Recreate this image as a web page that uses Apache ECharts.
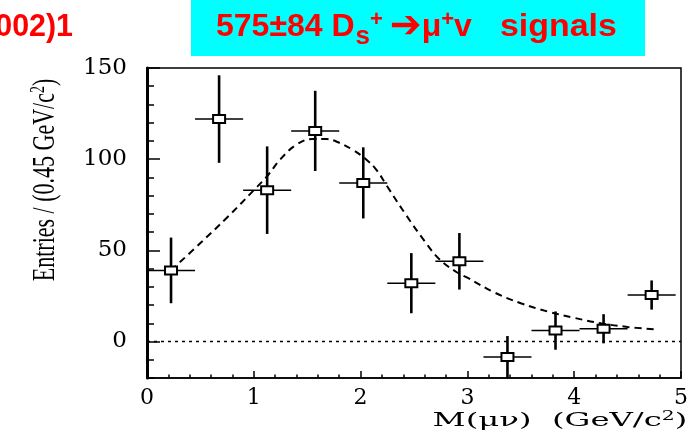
<!DOCTYPE html>
<html>
<head>
<meta charset="utf-8">
<script src="https://cdn.jsdelivr.net/npm/echarts@6/dist/echarts.min.js"></script>
<style>
  html, body { margin: 0; padding: 0; background: #fff; }
  #chart { width: 691px; height: 435px; }
</style>
</head>
<body>
<div id="chart"></div>
<script>
// Measured entries per 0.45 GeV/c^2 bin of M(mu nu)
const binCenters = [0.225, 0.675, 1.125, 1.575, 2.025, 2.475, 2.925, 3.375, 3.825, 4.275, 4.725];
const entries = [39, 122, 83, 115.5, 87, 32, 44, -8.5, 6, 7, 25.5];
const entryErrors = [18, 24, 24, 22, 19.5, 16.5, 15.5, 11.5, 10.5, 8, 8];
const binHalfWidth = 0.225;

// Fitted signal shape (dashed curve)
const fitMass = [0.225, 0.5, 0.75, 1.0, 1.13, 1.25, 1.4, 1.55, 1.68, 1.8, 1.93, 2.05, 2.15, 2.25, 2.43, 2.6, 2.74, 2.9, 3.0, 3.25, 3.5, 3.75, 4.0, 4.25, 4.5, 4.76];
const fitEntries = [39, 54, 68, 83, 91, 100, 108, 111, 111, 109, 105, 100, 94, 85, 69, 55, 45, 38, 35, 27, 21, 16.5, 13, 10, 8, 6.6];

// Axis labels
const xTickLabels = [0, 1, 2, 3, 4, 5];
const yTickLabels = [0, 50, 100, 150];

const serif = '"DejaVu Serif", "Liberation Serif", serif';
const titleFont = '"Liberation Sans", Arial, sans-serif';

const chart = echarts.init(document.getElementById('chart'), null, { renderer: 'canvas' });

const points = binCenters.map((x, i) => [x, entries[i], entryErrors[i]]);
const fitCurve = fitMass.map((x, i) => [x, fitEntries[i]]);

// Data point: hollow square with vertical (statistical) and horizontal (bin width) bars
function renderErrorBar(params, api) {
  const x = api.value(0), y = api.value(1), e = api.value(2);
  const c = api.coord([x, y]);
  const top = api.coord([x, y + e]);
  const bot = api.coord([x, y - e]);
  const left = api.coord([x - binHalfWidth, y]);
  const right = api.coord([x + binHalfWidth, y]);
  const w = 12, h = 8;
  return {
    type: 'group',
    children: [
      { type: 'line', shape: { x1: c[0], y1: top[1], x2: c[0], y2: bot[1] },
        style: { stroke: '#000', lineWidth: 2.6 } },
      { type: 'line', shape: { x1: left[0], y1: c[1], x2: right[0], y2: c[1] },
        style: { stroke: '#000', lineWidth: 1.5 } },
      { type: 'rect', shape: { x: c[0] - w / 2, y: c[1] - h / 2, width: w, height: h },
        style: { fill: '#fff', stroke: '#000', lineWidth: 2 } }
    ]
  };
}

const option = {
  backgroundColor: '#fff',
  animation: false,
  grid: {
    left: 147, top: 68, right: 10, bottom: 57,
    show: true, borderColor: '#000', borderWidth: 1.5, backgroundColor: 'transparent'
  },
  xAxis: {
    type: 'value', min: 0, max: 5, interval: 1,
    axisLine: { show: true, onZero: false, lineStyle: { color: '#000', width: 1.5 } },
    axisTick: { show: true, inside: true, length: 7, lineStyle: { color: '#000', width: 1.5 } },
    minorTick: { show: true, splitNumber: 5, length: 3.5, lineStyle: { color: '#000', width: 1.5 } },
    splitLine: { show: false },
    axisLabel: {
      color: '#000', fontFamily: serif, fontSize: 22, margin: 9,
      formatter: v => (xTickLabels.includes(v) ? String(v) : '')
    }
  },
  yAxis: [
    {
      type: 'value', min: -20, max: 150, interval: 10,
      axisLine: { show: true, onZero: false, lineStyle: { color: '#000', width: 3 } },
      axisTick: { show: true, inside: true, length: 7, lineStyle: { color: '#000', width: 1.5 } },
      splitLine: { show: false },
      axisLabel: {
        color: '#000', fontFamily: serif, fontSize: 23, margin: 20,
        formatter: v => (yTickLabels.includes(v) ? String(v) : '')
      }
    },
    {
      type: 'value', min: -20, max: 150, position: 'left',
      axisLine: { show: false },
      axisTick: { show: true, inside: true, length: 13, customValues: yTickLabels,
        lineStyle: { color: '#000', width: 1.5 } },
      axisLabel: { show: false },
      splitLine: { show: false }
    }
  ],
  graphic: [
    { type: 'rect', left: 191, top: 0, shape: { width: 454, height: 56 }, style: { fill: '#00FFFF' }, z: 10 },
    {
      type: 'text', x: 216, y: 27, z: 11,
      style: {
        text: '575±84 D{sub|s}{sup|+}{arrow|➔}μ{sup|+}v',
        fill: '#FF0000', font: 'bold 32px ' + titleFont, verticalAlign: 'middle', textAlign: 'left',
        rich: {
          sub: { fill: '#FF0000', fontWeight: 'bold', fontSize: 26, fontFamily: titleFont, padding: [20, 0, 0, 1] },
          sup: { fill: '#FF0000', fontWeight: 'bold', fontSize: 22, fontFamily: titleFont, padding: [0, 0, 14, 0] },
          arrow: { fill: '#FF0000', fontWeight: 'bold', fontSize: 38, fontFamily: '"DejaVu Sans", sans-serif', padding: [0, 0, 0, 7] }
        }
      }
    },
    {
      type: 'text', x: 500, y: 27, scaleX: 1.06, z: 11,
      style: { text: 'signals', fill: '#FF0000', font: 'bold 32px ' + titleFont, textAlign: 'left', verticalAlign: 'middle' }
    },
    {
      type: 'text', x: 73, y: 27, scaleX: 0.95, z: 11,
      style: { text: '002)1', fill: '#FF0000', font: 'bold 32px ' + titleFont, textAlign: 'right', verticalAlign: 'middle' }
    },
    {
      type: 'text', x: 46, y: 180, rotation: Math.PI / 2, scaleY: 1.45, z: 11,
      style: {
        text: 'Entries / (0.45 GeV/c{sup|2})', fill: '#000', font: '22px "Liberation Serif", serif',
        textAlign: 'center', verticalAlign: 'middle',
        rich: { sup: { fontSize: 14, fontFamily: '"Liberation Serif", serif', fill: '#000', padding: [0, 0, 10, 0] } }
      }
    },
    {
      type: 'text', x: 560, y: 421, scaleX: 1.7, z: 11,
      style: {
        text: 'M(μν)  (GeV/c{sup|2})', fill: '#000', font: '19px ' + serif,
        textAlign: 'center', verticalAlign: 'middle',
        rich: { sup: { fontSize: 12, fontFamily: serif, fill: '#000', padding: [0, 0, 9, 0] } }
      }
    }
  ],
  series: [
    {
      name: 'zero', type: 'line', symbol: 'none', silent: true,
      data: [[0, 0], [5, 0]],
      lineStyle: { color: '#000', width: 1.5, type: [3, 4] }
    },
    {
      name: 'fit', type: 'line', symbol: 'none', smooth: 0.4, silent: true,
      data: fitCurve,
      lineStyle: { color: '#000', width: 2, type: [7, 5] }
    },
    {
      name: 'data', type: 'custom', clip: true,
      renderItem: renderErrorBar,
      data: points, z: 5
    }
  ]
};

chart.setOption(option);
</script>
</body>
</html>
